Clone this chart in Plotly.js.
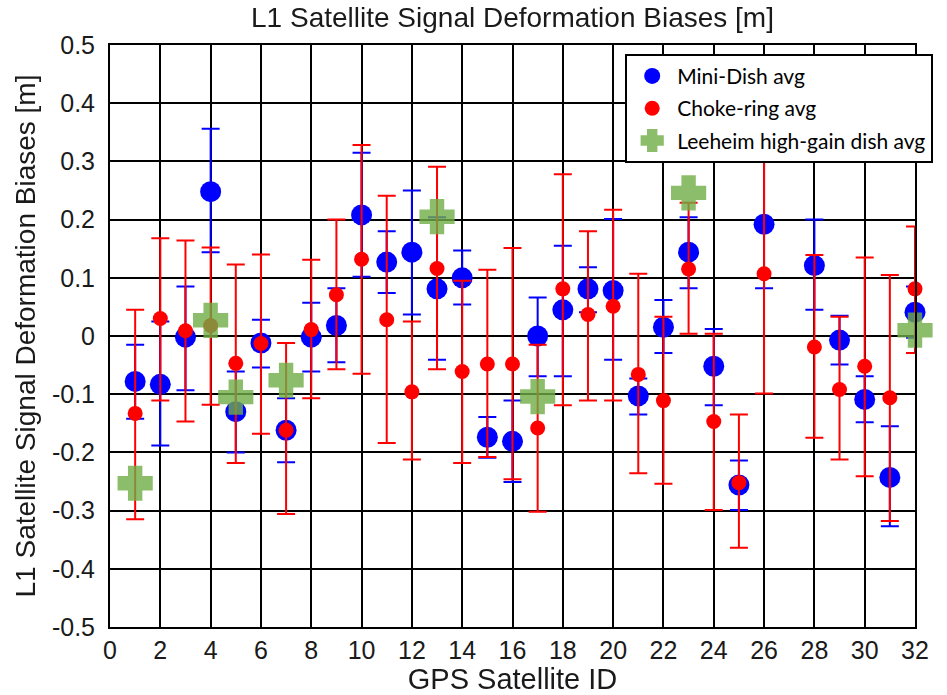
<!DOCTYPE html>
<html>
<head>
<meta charset="utf-8">
<script src="https://cdn.plot.ly/plotly-3.0.1.min.js"></script>
<style>
  html, body { margin: 0; padding: 0; background: #fff; }
  #chart { width: 947px; height: 695px; }
</style>
</head>
<body>
<div id="chart"></div>
<script>
// ---- Data ----
const satId = [1,2,3,4,5,6,7,8,9,10,11,12,13,14,15,16,17,18,19,20,21,22,23,24,25,26,27,28,29,30,31,32];

// Mini-Dish average and its error bars (upper / lower)
const miniDish      = [-0.078,-0.083,-0.002,0.248,-0.130,-0.012,-0.162,-0.002,0.018,0.208,0.127,0.144,0.081,0.100,-0.174,-0.181,0.000,0.045,0.081,0.078,-0.103,0.015,0.144,-0.052,-0.256,0.192,null,0.121,-0.007,-0.109,-0.243,0.041];
const miniDishErrHi = [0.063,0.108,0.087,0.108,0.069,0.040,0.055,0.059,0.064,0.107,0.053,0.106,0.123,0.047,0.035,0.070,0.066,0.110,0.037,0.123,0.030,0.047,0.060,0.064,0.042,0.110,null,0.079,0.042,0.040,0.088,0.044];
const miniDishErrLo = [0.064,0.105,0.091,0.104,0.070,0.042,0.055,0.059,0.063,0.106,0.053,0.107,0.122,0.046,0.035,0.070,0.069,0.114,0.040,0.119,0.032,0.044,0.062,0.067,0.043,0.110,null,0.076,0.042,0.039,0.084,0.044];

// Choke-ring average and its error bars (upper / lower)
const chokeRing      = [-0.133,0.030,0.009,0.018,-0.047,-0.013,-0.162,0.011,0.071,0.132,0.028,-0.096,0.116,-0.061,-0.048,-0.048,-0.158,0.081,0.037,0.051,-0.066,-0.111,0.115,-0.147,-0.252,0.107,null,-0.019,-0.092,-0.052,-0.106,0.081];
const chokeRingErrHi = [0.178,0.138,0.155,0.134,0.170,0.153,0.150,0.120,0.129,0.196,0.213,0.121,0.175,0.156,0.162,0.199,0.143,0.197,0.143,0.166,0.173,0.144,0.114,0.151,0.117,0.206,null,0.158,0.125,0.187,0.211,0.107];
const chokeRingErrLo = [0.182,0.141,0.156,0.136,0.171,0.155,0.144,0.118,0.128,0.197,0.212,0.116,0.173,0.157,0.160,0.198,0.144,0.200,0.148,0.162,0.170,0.143,0.111,0.152,0.112,0.206,null,0.156,0.120,0.189,0.212,0.110];

// Leeheim high-gain dish average (only some satellites)
const leeheimId  = [1,4,5,7,13,17,23,32];
const leeheimAvg = [-0.253,0.027,-0.105,-0.076,0.205,-0.104,0.246,0.010];

// Tick labels
const yTickVals  = [0.5,0.4,0.3,0.2,0.1,0,-0.1,-0.2,-0.3,-0.4,-0.5];
const yTickText  = ["0.5","0.4","0.3","0.2","0.1","0","-0.1","-0.2","-0.3","-0.4","-0.5"];
const xTickVals  = [0,2,4,6,8,10,12,14,16,18,20,22,24,26,28,30,32];
const xTickText  = ["0","2","4","6","8","10","12","14","16","18","20","22","24","26","28","30","32"];

// ---- Traces ----
const traces = [
  {
    type: 'scatter', mode: 'markers', name: 'Mini-Dish avg',
    legendgroup: 'a',
    x: satId, y: miniDish,
    marker: { color: '#0000ff', size: 21 },
    error_y: { type: 'data', symmetric: false, array: miniDishErrHi, arrayminus: miniDishErrLo,
               color: '#0000ff', thickness: 2, width: 9 },
    cliponaxis: false
  },
  {
    type: 'scatter', mode: 'markers', name: 'Choke-ring avg',
    legendgroup: 'b',
    x: satId, y: chokeRing,
    marker: { color: '#ff0000', size: 15 },
    error_y: { type: 'data', symmetric: false, array: chokeRingErrHi, arrayminus: chokeRingErrLo,
               color: '#ff0000', thickness: 2, width: 9 },
    cliponaxis: false
  },
  {
    type: 'scatter', mode: 'markers', name: 'Leeheim high-gain dish avg',
    legendgroup: 'c',
    x: leeheimId, y: leeheimAvg,
    opacity: 0.8,
    marker: { color: 'rgb(112,173,71)', size: 26, symbol: 'cross',
              line: { width: 4, color: 'rgb(112,173,71)' } },
    cliponaxis: false
  }
];

const tickFont = { family: 'Liberation Sans, Arial, sans-serif', size: 25, color: '#1a1a1a' };
const titleFont = { family: 'Liberation Sans, Arial, sans-serif', size: 29, color: '#1a1a1a' };

const layout = {
  width: 947, height: 695,
  paper_bgcolor: '#ffffff', plot_bgcolor: '#ffffff',
  margin: { l: 110, r: 32, t: 45, b: 68, pad: 0 },
  title: { text: 'L1 Satellite Signal Deformation Biases [m]',
           font: { family: 'Liberation Sans, Arial, sans-serif', size: 28, color: '#1a1a1a' },
           x: 0.5, xref: 'paper', xanchor: 'center', y: 0.975, yref: 'container', yanchor: 'middle' },
  xaxis: {
    range: [0, 32], tickvals: xTickVals, ticktext: xTickText,
    showgrid: true, gridcolor: '#000000', gridwidth: 2,
    zeroline: false, showline: true, mirror: true, linecolor: '#000000', linewidth: 2,
    ticks: '', ticklabelstandoff: 0, tickfont: tickFont,
    title: { text: 'GPS Satellite ID', font: titleFont, standoff: 6 }
  },
  yaxis: {
    range: [-0.5, 0.5], tickvals: yTickVals, ticktext: yTickText,
    showgrid: true, gridcolor: '#000000', gridwidth: 2,
    zeroline: true, zerolinecolor: '#000000', zerolinewidth: 2,
    showline: true, mirror: true, linecolor: '#000000', linewidth: 2,
    ticks: '', ticklabelstandoff: 8, tickfont: tickFont,
    title: { text: 'L1 Satellite Signal Deformation Biases [m]',
             font: { family: 'Liberation Sans, Arial, sans-serif', size: 28, color: '#1a1a1a' }, standoff: 8 }
  },
  showlegend: true,
  legend: {
    x: 0.64, y: 0.985, xanchor: 'left', yanchor: 'top',
    bgcolor: '#ffffff', bordercolor: '#000000', borderwidth: 2,
    font: { family: 'Lato, Calibri, sans-serif', size: 21, color: '#000000' },
    traceorder: 'grouped', tracegroupgap: 2, itemsizing: 'trace', itemwidth: 40
  }
};

Plotly.newPlot('chart', traces, layout, { displayModeBar: false, staticPlot: true });
</script>
</body>
</html>
